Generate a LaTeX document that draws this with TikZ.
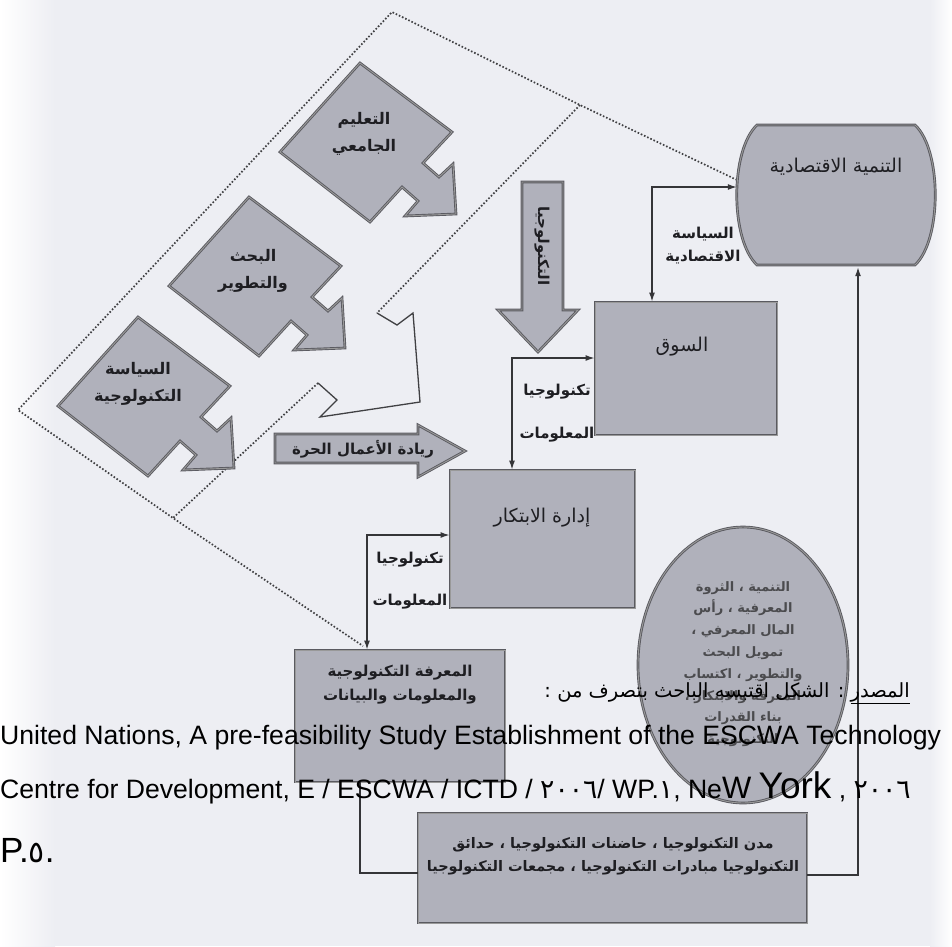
\documentclass[tikz,border=0pt]{standalone}
\usepackage{fontspec}
\setmainfont{Liberation Sans}
\newfontfamily\arf[Script=Arabic]{DejaVu Sans}
\newfontfamily\djv{DejaVu Sans}
\TeXXeTstate=1
\usetikzlibrary{arrows.meta,shapes.geometric,calc}
\definecolor{bg}{RGB}{237,238,243}
\definecolor{boxgray}{RGB}{176,177,187}
\definecolor{edge}{RGB}{90,90,96}
\definecolor{ink}{RGB}{30,30,34}
\newcommand\RL[1]{\beginR#1\endR}
\begin{document}
\begin{tikzpicture}[x=1pt,y=-1pt,
  shp/.style={draw=edge, line width=0.9pt, double=black!40, double distance=0.9pt, fill=boxgray},
  boxnode/.style={shp, rectangle, inner sep=0pt},
  conn/.style={draw=ink!90, line width=1.3pt, >={Latex[length=9pt,width=6pt]}},
  dots/.style={draw=ink!85, line width=1.7pt, dash pattern=on 1.6pt off 1.9pt},
  arbold/.style={font=\arf\bfseries\fontsize{15}{23}\selectfont, text=ink, inner sep=0pt, align=center},
  artitle/.style={font=\arf\fontsize{19}{23}\selectfont, text=ink, inner sep=0pt},
  calloutshape/.pic={\path[shp] (0,0) -- (92,69) -- (63,100) -- (79,114) -- (93,101) -- (96,151) -- (45,153) -- (58,138) -- (42,124) -- (10,159) -- (-80,89) -- cycle;}
]
\useasboundingbox (0,0) rectangle (952,946);
\fill[bg] (0,0) rectangle (952,946);
\shade[left color=white, right color=bg] (0,0) rectangle (55,946);
\shade[left color=bg, right color=white] (930,0) rectangle (952,946);

% dotted frame
\draw[dots] (737,180) -- (580,105) -- (392,12) -- (18,410) -- (173,518) -- (363,646);
\draw[dots] (580,105) -- (377,313);
\draw[dots] (318,383) -- (173,518);
\draw[draw=ink!85, line width=1.3pt, line join=miter] (377,313) -- (397,325) -- (413,313) -- (420,402) -- (320,417) -- (337,400) -- (318,383);

% three callouts
\pic at (360,63) {calloutshape};
\pic at (249,197) {calloutshape};
\pic at (138,317) {calloutshape};
\node[arbold, font=\arf\bfseries\fontsize{16}{27}\selectfont] (edu) at (364,134) {\RL{التعليم}\\\RL{الجامعي}};
\node[arbold, font=\arf\bfseries\fontsize{16}{27}\selectfont] (rnd) at (253,271) {\RL{البحث}\\\RL{والتطوير}};
\node[arbold, font=\arf\bfseries\fontsize{16}{27}\selectfont] (tpol) at (138,384) {\RL{السياسة}\\\RL{التكنولوجية}};

% entrepreneurship arrow
\path[shp] (275,434) -- (418,434) -- (418,425) -- (465,451) -- (418,477) -- (418,463) -- (275,463) -- cycle;
\node[arbold] (entre) at (363,449) {\RL{ريادة الأعمال الحرة}};

% technology down arrow
\path[shp] (522,182) -- (563,182) -- (563,310) -- (578,310) -- (538,352) -- (498,310) -- (522,310) -- cycle;
\node[arbold, rotate=-90] (techv) at (542,246) {\RL{التكنولوجيا}};

% economic development (terminal shape)
\path[shp] (757,125) -- (915,125) .. controls (942,150) and (942,240) .. (915,265) -- (757,265) .. controls (730,240) and (730,150) .. (757,125) -- cycle;
\node[minimum width=198, minimum height=140, inner sep=0pt] (econ) at (836,195) {};
\node[artitle] (econt) at (836,167) {\RL{التنمية الاقتصادية}};

% main boxes
\node[boxnode, minimum width=182, minimum height=133] (market) at (686,368.5) {};
\node[artitle] (markett) at (682,347) {\RL{السوق}};
\node[boxnode, minimum width=185, minimum height=138] (innov) at (542.5,539) {};
\node[artitle] (innovt) at (542,518) {\RL{إدارة الابتكار}};
\node[boxnode, minimum width=210, minimum height=132] (know) at (400,716) {};
\node[arbold, font=\arf\bfseries\fontsize{15}{24}\selectfont] (knowt) at (400,685) {\RL{المعرفة التكنولوجية}\\\RL{والمعلومات والبيانات}};
\node[shp, ellipse, minimum width=210, minimum height=276, inner sep=0pt] (wealth) at (743,665) {};
\node[arbold, text=ink!80, font=\arf\bfseries\fontsize{13}{21.8}\selectfont] (wealtht) at (743,664) {\RL{التنمية ، الثروة}\\\RL{المعرفية ، رأس}\\\RL{المال المعرفي ،}\\\RL{تمويل البحث}\\\RL{والتطوير ، اكتساب}\\\RL{المعرفة والابتكار ،}\\\RL{بناء القدرات}\\\RL{التكنولوجية}};
\node[boxnode, minimum width=389, minimum height=110] (parks) at (612.5,868) {};
\node[arbold, font=\arf\bfseries\fontsize{14.5}{23}\selectfont] (parkst) at (613,856) {\RL{مدن التكنولوجيا ، حاضنات التكنولوجيا ، حدائق}\\\RL{التكنولوجيا مبادرات التكنولوجيا ، مجمعات التكنولوجيا}};

% connector labels
\node[arbold] (ecopol) at (703,246) {\RL{السياسة}\\\RL{الاقتصادية}};
\node[arbold] (it1a) at (557,392) {\RL{تكنولوجيا}};
\node[arbold] (it1b) at (557,435) {\RL{المعلومات}};
\node[arbold] (it2a) at (410,560) {\RL{تكنولوجيا}};
\node[arbold] (it2b) at (410,602) {\RL{المعلومات}};

% connectors
\draw[conn,<->] ([xshift=-34pt]market.north) |- ([yshift=8pt]econ.west);
\draw[conn,<->] ([xshift=-30.5pt]innov.north) |- ([yshift=10.5pt]market.west);
\draw[conn,<->] ([xshift=-33pt]know.north) |- ([yshift=4pt]innov.west);
\draw[conn] ([xshift=-40pt]know.south) |- ([yshift=-5pt]parks.west);
\draw[conn,->] ([yshift=-7pt]parks.east) -| ([xshift=22pt,yshift=-2pt]econ.south);

% source text
\node[anchor=base east, inner sep=0pt, text=black, font=\arf\fontsize{19.5}{24}\selectfont] (srcar) at (910,697) {\RL{\underline{المصدر} : الشكل اقتبسه الباحث بتصرف من :}};
\node[anchor=base west, inner sep=0pt, text=black, font=\fontsize{26.6}{30}\selectfont] (src1) at (0,744) {United Nations, A pre-feasibility Study Establishment of the ESCWA Technology};
\node[anchor=base west, inner sep=0pt, text=black, font=\fontsize{26.6}{30}\selectfont] (src2) at (0,798) {Centre for Development, E / ESCWA / ICTD / {\arf ٢٠٠٦}/ WP.{\arf ١}, Ne{\fontsize{31}{31}\selectfont W} {\fontsize{37}{37}\selectfont York} , {\arf ٢٠٠٦}};
\node[anchor=base west, inner sep=0pt, text=black, font=\fontsize{35}{38}\selectfont] (src3) at (0,862) {P.{\djv\fontsize{30}{38}\selectfont ٥}.};
\end{tikzpicture}
\end{document}
